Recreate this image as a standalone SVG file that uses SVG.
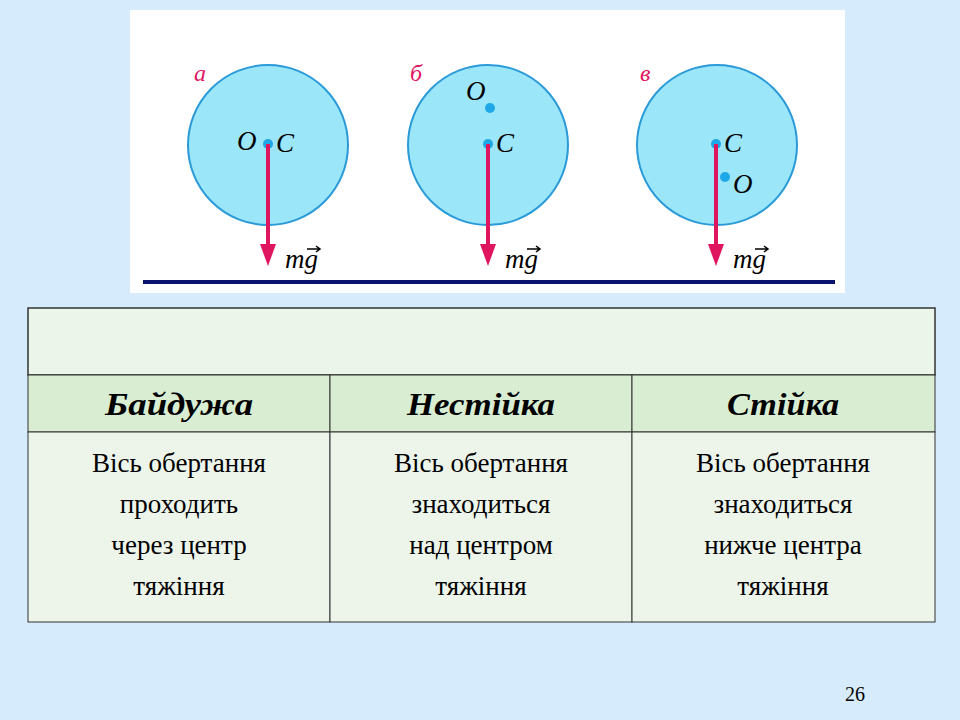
<svg xmlns="http://www.w3.org/2000/svg" width="960" height="720" viewBox="0 0 960 720">
<style>
.c{fill:#9BE6F8;stroke:#2A9AD8;stroke-width:2}
.d{fill:#1FA8E8}
.ar{stroke:#E0155F;stroke-width:4}
.ah{fill:#E0155F}
.l{font-family:"Liberation Serif",serif;font-style:italic;font-size:27px;fill:#000}
.p{font-family:"Liberation Serif",serif;font-style:italic;font-size:24px;fill:#E0155F}
.h{font-family:"Liberation Serif",serif;font-style:italic;font-weight:bold;font-size:32px;text-anchor:middle}
.t{font-family:"Liberation Serif",serif;font-size:27px;text-anchor:middle}
.cell{stroke:#333;stroke-width:1}
.v{stroke:#000;stroke-width:1.5;fill:none}
</style>
<defs>
<g id="vec"><path class="v" d="M0,0 H13 M9,-3 L13,0 L9,3"/></g>
</defs>
<rect width="960" height="720" fill="#D6EBFB"/>
<rect x="130" y="10" width="715" height="283" fill="#fff"/>
<line x1="143" y1="282" x2="835" y2="282" stroke="#0A1470" stroke-width="4"/>
<g id="fig-a">
<circle class="c" cx="268" cy="145" r="80"/>
<text class="p" x="194" y="81">a</text>
<circle class="d" cx="268" cy="144" r="5"/>
<line class="ar" x1="268" y1="144" x2="268" y2="250"/>
<polygon class="ah" points="260,244 276,244 268,266"/>
<text class="l" x="237" y="150">O</text><text class="l" x="276" y="152">C</text>
<text class="l" x="285" y="268">mg</text><use href="#vec" x="307" y="249"/>
</g>
<g id="fig-b">
<circle class="c" cx="488" cy="145" r="80"/>
<text class="p" x="410" y="81">б</text>
<circle class="d" cx="490" cy="108" r="5"/>
<circle class="d" cx="488" cy="144" r="5"/>
<line class="ar" x1="488" y1="144" x2="488" y2="250"/>
<polygon class="ah" points="480,244 496,244 488,266"/>
<text class="l" x="466" y="100">O</text><text class="l" x="496" y="152">C</text>
<text class="l" x="505" y="268">mg</text><use href="#vec" x="527" y="249"/>
</g>
<g id="fig-c">
<circle class="c" cx="717" cy="145" r="80"/>
<text class="p" x="640" y="81">в</text>
<circle class="d" cx="716" cy="144" r="5"/>
<circle class="d" cx="725" cy="177" r="5"/>
<line class="ar" x1="716" y1="144" x2="716" y2="250"/>
<polygon class="ah" points="708,244 724,244 716,266"/>
<text class="l" x="724" y="152">C</text><text class="l" x="733" y="193">O</text>
<text class="l" x="733" y="268">mg</text><use href="#vec" x="755" y="249"/>
</g>
<g id="table">
<rect x="28" y="308" width="907" height="67" fill="#EBF5EA" stroke="#333" stroke-width="1.5"/>
<rect class="cell" x="28" y="375" width="302" height="57" fill="#D8EDD2"/>
<rect class="cell" x="330" y="375" width="302" height="57" fill="#D8EDD2"/>
<rect class="cell" x="632" y="375" width="303" height="57" fill="#D8EDD2"/>
<rect class="cell" x="28" y="432" width="302" height="190" fill="#EDF5EB"/>
<rect class="cell" x="330" y="432" width="302" height="190" fill="#EDF5EB"/>
<rect class="cell" x="632" y="432" width="303" height="190" fill="#EDF5EB"/>
<text class="h" x="179" y="415" textLength="148" lengthAdjust="spacingAndGlyphs">Байдужа</text>
<text class="h" x="481" y="415" textLength="148" lengthAdjust="spacingAndGlyphs">Нестійка</text>
<text class="h" x="783" y="415" textLength="112" lengthAdjust="spacingAndGlyphs">Стійка</text>
<text class="t" x="179" y="472">Вісь обертання</text>
<text class="t" x="179" y="513">проходить</text>
<text class="t" x="179" y="554">через центр</text>
<text class="t" x="179" y="595">тяжіння</text>
<text class="t" x="481" y="472">Вісь обертання</text>
<text class="t" x="481" y="513">знаходиться</text>
<text class="t" x="481" y="554">над центром</text>
<text class="t" x="481" y="595">тяжіння</text>
<text class="t" x="783" y="472">Вісь обертання</text>
<text class="t" x="783" y="513">знаходиться</text>
<text class="t" x="783" y="554">нижче центра</text>
<text class="t" x="783" y="595">тяжіння</text>
</g>
<text x="855" y="701" font-family="Liberation Serif,serif" font-size="20" text-anchor="middle">26</text>
</svg>
